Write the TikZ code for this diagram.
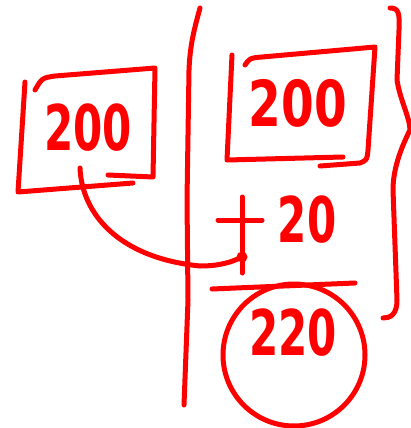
\documentclass[tikz,border=0pt]{standalone}
\usepackage{fontspec}
\setmainfont{DejaVu Sans}
\begin{document}
\begin{tikzpicture}[x=1pt,y=-1pt,
  ink/.style={draw=red,line width=5pt,line cap=round,line join=round},
  num/.style={text=red,font=\fontsize{42}{46}\selectfont\bfseries,inner sep=0pt}]
\useasboundingbox (0,0) rectangle (411,428);
% left box
\node[num] (a) at (88,128) {\scalebox{1}[1.5]{200}};
\draw[ink] (25,82) -- (18,192) -- (133,183);
\draw[ink] (108,175) -- (153,177) -- (155,68) -- (55,76) .. controls (42,78) .. (35,90);
% left vertical line
\draw[ink] (200,8) .. controls (194,30) and (190,45) .. (189,70) -- (187,200) -- (188,300) -- (184,405);
% right box
\node[num,font=\fontsize{47}{50}\selectfont\bfseries] (b) at (298,103) {\scalebox{1}[1.35]{200}};
\draw[ink] (232,55) -- (227,160) -- (343,157);
\draw[ink] (320,166) -- (360,163) .. controls (367,160) .. (368,150) -- (375,47) -- (262,57) .. controls (250,58) .. (245,65);
% plus
\coordinate (p1) at (218,220);
\coordinate (p2) at (262,220);
\draw[ink] (p1) -- (p2);
\coordinate (p3) at (242,197);
\coordinate (p4) at (242,273);
\draw[ink] (p3) -- (p4);
\node[num] (c) at (307,220) {\scalebox{1}[1.5]{20}};
% dot and connector
\node[circle,fill=red,inner sep=0pt,minimum size=11pt] (dot) at (242,257) {};
\coordinate (s) at (80,168);
\draw[ink] (s) .. controls (82,215) and (120,258) .. (200,266) .. controls (220,266) and (232,262) .. (dot.center);
% fraction bar
\coordinate (f1) at (212,289);
\coordinate (f2) at (355,283);
\draw[ink] (f1) -- (f2);
% result circled
\node[num] (d) at (293,333) {\scalebox{1}[1.5]{220}};
\node[ink,circle,minimum size=142pt,inner sep=0pt] (o) at (294,355) {};
% right brace
\draw[ink] (390,8) .. controls (398,8) and (400,12) .. (399,30) -- (397,80)
  .. controls (400,100) and (410,118) .. (410,130)
  .. controls (400,150) and (393,170) .. (393,190) -- (397,300)
  .. controls (397,315) and (390,318) .. (383,318);
\end{tikzpicture}
\end{document}
